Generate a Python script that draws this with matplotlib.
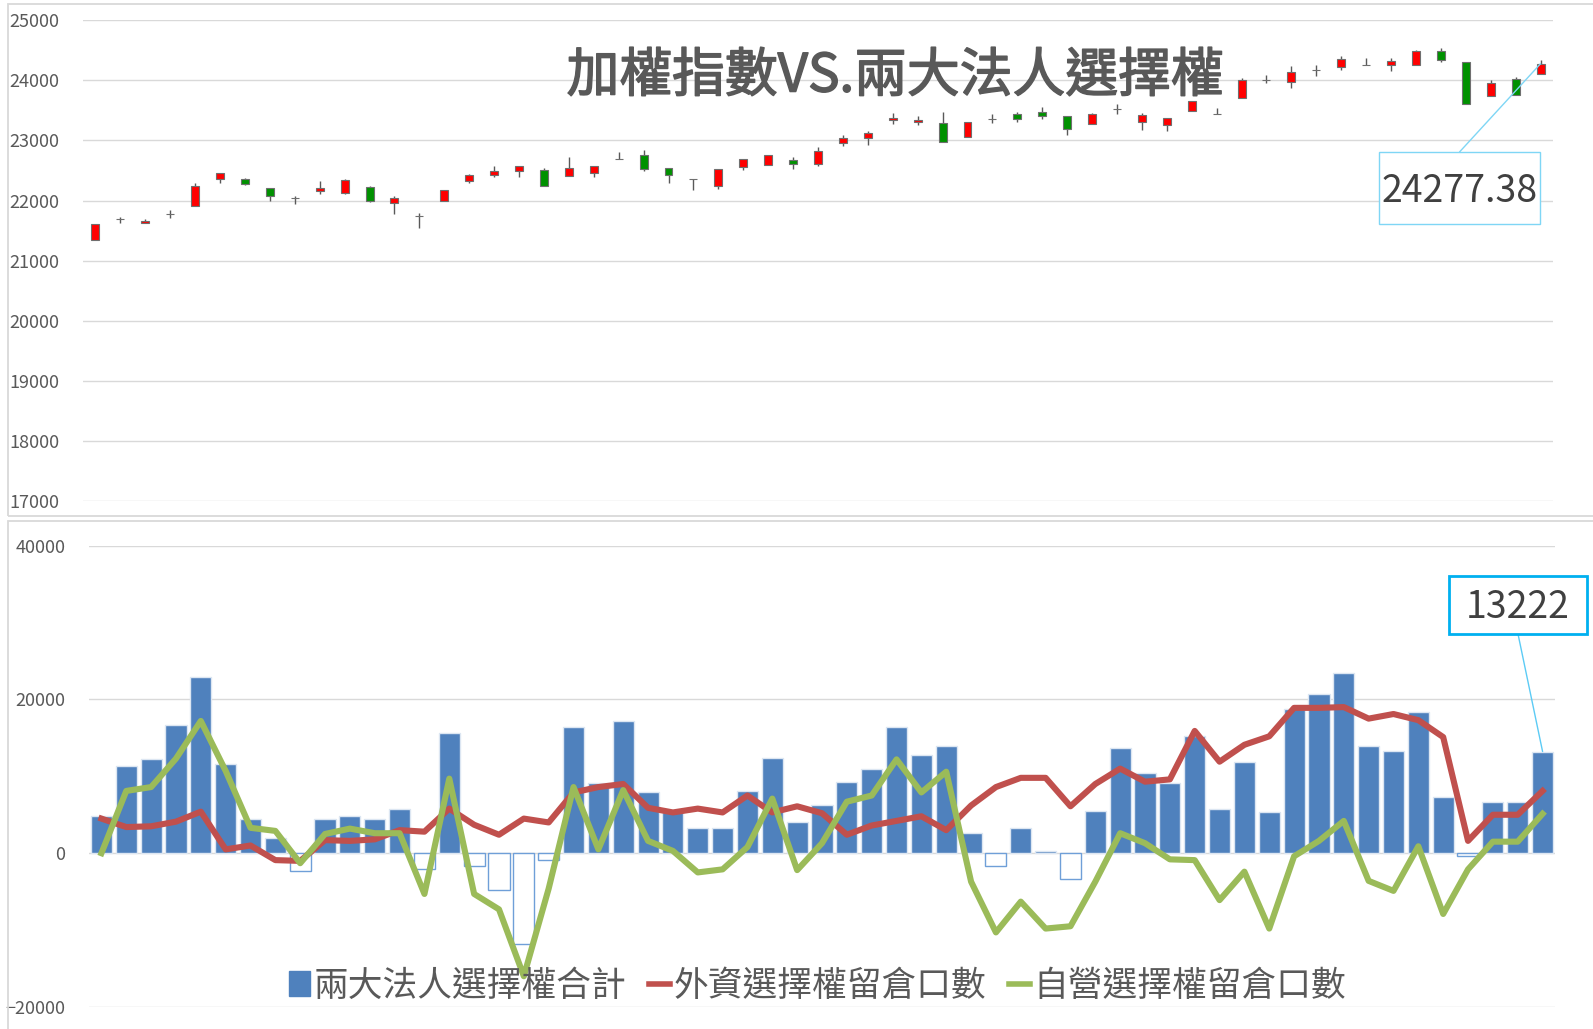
import numpy as np
import matplotlib
matplotlib.use('Agg')
import matplotlib.pyplot as plt
import matplotlib.patheffects as pe
from matplotlib.patches import Patch, Rectangle
from matplotlib.lines import Line2D

plt.rcParams['font.family'] = ['Noto Sans CJK TC', 'DejaVu Sans']

# 加權指數 K 線
opens = [21340, 21690, 21634, 21783, 21916, 22366, 22366, 22210, 22050, 22160,
         22127, 22227, 21955, 21739, 22000, 22333, 22421, 22499, 22504, 22410,
         22455, 22698, 22754, 22549, 22366, 22244, 22560, 22593, 22671, 22610,
         22959, 23037, 23347, 23303, 23292, 23059, 23364, 23447, 23475, 23408,
         23281, 23530, 23308, 23253, 23492, 23447, 23708, 24013, 23974, 24168,
         24224, 24251, 24262, 24262, 24490, 24307, 23736, 24029, 24102]
highs = [21617, 21728, 21689, 21839, 22288, 22466, 22382, 22216, 22083, 22321,
         22360, 22238, 22077, 21800, 22183, 22438, 22582, 22577, 22549, 22726,
         22577, 22810, 22837, 22549, 22366, 22521, 22687, 22754, 22726, 22887,
         23092, 23150, 23464, 23403, 23475, 23314, 23436, 23480, 23558, 23408,
         23453, 23602, 23458, 23381, 23658, 23547, 24041, 24085, 24235, 24251,
         24401, 24379, 24379, 24512, 24540, 24307, 24000, 24060, 24346]
lows = [21340, 21634, 21622, 21717, 21916, 22294, 22255, 21988, 21939, 22116,
        22105, 21983, 21783, 21550, 22000, 22294, 22393, 22393, 22244, 22410,
        22388, 22698, 22493, 22294, 22183, 22199, 22515, 22593, 22521, 22580,
        22915, 22920, 23275, 23253, 22976, 23059, 23286, 23314, 23353, 23092,
        23270, 23447, 23170, 23153, 23492, 23447, 23708, 23957, 23880, 24068,
        24168, 24251, 24157, 24262, 24307, 23614, 23736, 23763, 24102]
closes = [21617, 21690, 21656, 21783, 22238, 22466, 22283, 22072, 22050, 22205,
          22349, 21994, 22044, 21739, 22183, 22427, 22488, 22577, 22244, 22549,
          22577, 22698, 22532, 22421, 22366, 22521, 22687, 22754, 22604, 22832,
          23042, 23120, 23381, 23336, 22976, 23314, 23364, 23358, 23403, 23198,
          23447, 23530, 23419, 23381, 23658, 23447, 24002, 24013, 24135, 24168,
          24362, 24251, 24323, 24484, 24334, 23614, 23963, 23763, 24277.38]

# 選擇權留倉口數
totals = [4900, 11400, 12200, 16700, 22900, 11600, 4400, 2000, -2250, 4400,
          4900, 4400, 5700, -2100, 15600, -1600, -4760, -11800, -900, 16400,
          9100, 17200, 7900, 5300, 3300, 3300, 8100, 12400, 4000, 6300,
          9300, 11000, 16400, 12800, 13900, 2600, -1700, 3300, 300, -3300,
          5500, 13700, 10400, 9100, 15300, 5700, 11800, 5400, 18800, 20700,
          23400, 13900, 13300, 18400, 7300, -300, 6600, 6600, 13222]
foreign = [4500, 3400, 3500, 4100, 5400, 500, 1000, -900, -1000, 1700,
           1600, 1800, 3000, 2800, 5800, 3700, 2400, 4500, 4000, 7900,
           8600, 9000, 5900, 5300, 5800, 5300, 7500, 5300, 6100, 5200,
           2400, 3600, 4200, 4800, 3000, 6200, 8600, 9800, 9800, 6100,
           9000, 11000, 9300, 9600, 15900, 11900, 14100, 15200, 18900, 18900,
           19000, 17500, 18100, 17300, 15100, 1600, 5000, 5000, 8100]
dealer = [0, 8100, 8600, 12300, 17200, 10700, 3300, 2900, -1300, 2500,
          3200, 2600, 2600, -5300, 9700, -5300, -7300, -16000, -4600, 8600,
          500, 8200, 1600, 300, -2500, -2100, 800, 7100, -2200, 1300,
          6700, 7500, 12200, 7900, 10600, -3700, -10300, -6300, -9800, -9500,
          -3700, 2600, 1300, -800, -900, -6100, -2400, -9800, -400, 1600,
          4200, -3600, -4900, 900, -7900, -2100, 1500, 1500, 5122]

title = '加權指數VS.兩大法人選擇權'
labels = ['兩大法人選擇權合計', '外資選擇權留倉口數', '自營選擇權留倉口數']

W, H = 1593, 1029
grid_c = '#D9D9D9'
txt_c = '#595959'
blue = '#4F81BD'
red_line = '#C0504D'
green_line = '#9BBB59'

fig = plt.figure(figsize=(W / 100, H / 100), dpi=100)

# outer boxes of the two charts
for y0, y1 in [(4, 516), (521, 1045)]:
    fig.patches.append(Rectangle((8 / W, 1 - y1 / H), 1.1, (y1 - y0) / H,
                                 transform=fig.transFigure, fill=False,
                                 ec=grid_c, lw=1.3))

x = np.arange(len(opens))


def callout(ax, label, point, box, ec, lw, line_c):
    # box = (left, top, width, height) in figure pixels from the top-left corner
    left, top, w, h = box
    fig.patches.append(Rectangle((left, H - top - h), w, h, transform=None,
                                 fc='white', ec=ec, lw=lw, zorder=5))
    fig.text(left + w / 2, H - top - h / 2 - 3, label, transform=None,
             ha='center', va='center', fontsize=27, color='#404040', zorder=6)
    edge_y = H - top if point[1] > ax.transData.inverted().transform((0, H - top))[1] else H - top - h
    ax.annotate('', xy=point, xytext=(left + w / 2, edge_y),
                textcoords='figure pixels',
                arrowprops=dict(arrowstyle='-', color=line_c, lw=1,
                                shrinkA=0, shrinkB=0))


# ---- top: candlesticks
ax1 = fig.add_axes([83 / W, 1 - 501 / H, (1553 - 83) / W, (501 - 20.3) / H])
ax1.set_xlim(-0.5, len(opens) - 0.5)
ax1.set_ylim(17000, 25000)
ax1.set_yticks(np.arange(17000, 25001, 1000))
ax1.grid(axis='y', color=grid_c, lw=1)
ax1.set_axisbelow(True)

o = np.array(opens, dtype=float)
c = np.array(closes, dtype=float)
ax1.vlines(x, lows, highs, color='#595959', lw=1, zorder=2)
cols = np.where(c > o, '#FF0000', np.where(c < o, '#009100', '#404040'))
ax1.bar(x, np.abs(c - o), bottom=np.minimum(o, c), width=0.32,
        color=cols, edgecolor='#6F6F6F', lw=0.8, zorder=3)

# ---- bottom: bars and lines
ax2 = fig.add_axes([89 / W, 1 - 1007 / H, 1466 / W, (1007 - 545.6) / H])
ax2.set_xlim(-0.5, len(totals) - 0.5)
ax2.set_ylim(-20000, 40000)
ax2.set_yticks([-20000, 0, 20000, 40000])
ax2.grid(axis='y', color=grid_c, lw=1)
ax2.set_axisbelow(True)

tv = np.array(totals)
ax2.bar(x, tv, width=0.85, color=np.where(tv >= 0, blue, 'white'),
        edgecolor=np.where(tv >= 0, '#DCE6F2', '#6F9FD8'), lw=1, zorder=2)
ax2.plot(x, foreign, color=red_line, lw=4.4, zorder=3)
ax2.plot(x, dealer, color=green_line, lw=4.4, zorder=4)

callout(ax1, f'{closes[-1]:.2f}', (x[-1], closes[-1]), (1379, 152, 161, 72),
        '#7FD6F5', 1, '#7FD6F5')
callout(ax2, f'{totals[-1]}', (x[-1], totals[-1]), (1449, 576, 138, 58),
        '#00B0F0', 2, '#5CCBF5')

handles = [Patch(color=blue),
           Line2D([], [], color=red_line, lw=4),
           Line2D([], [], color=green_line, lw=4)]
leg = ax2.legend(handles, labels, loc='center', bbox_to_anchor=(0.497, 0.045),
                 ncol=3, frameon=False, fontsize=25, handlelength=0.6,
                 handletextpad=0.1, columnspacing=0.65, borderaxespad=0)
for t in leg.get_texts():
    t.set_color(txt_c)

for ax in (ax1, ax2):
    for s in ax.spines.values():
        s.set_visible(False)
    ax.set_xticks([])
    ax.tick_params(axis='y', length=0, pad=17, labelsize=13, labelcolor=txt_c)

fig.text(895 / W, 1 - 76 / H, title, ha='center', va='center', fontsize=38,
         color=txt_c,
         path_effects=[pe.withStroke(linewidth=1.1, foreground=txt_c)])

fig.savefig('out.png', dpi=100)
